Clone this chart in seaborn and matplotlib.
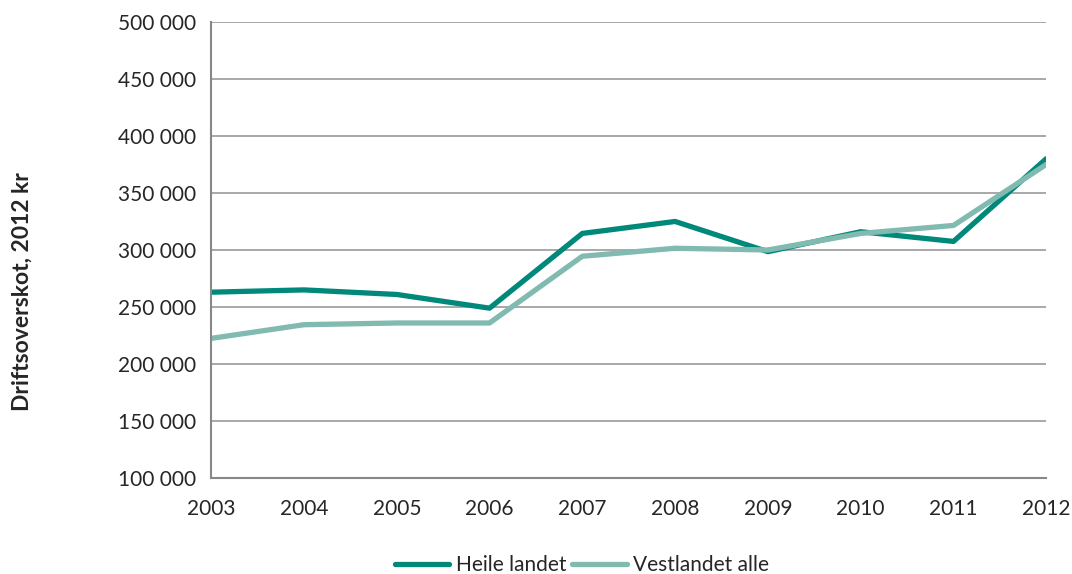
import pandas as pd
import matplotlib.pyplot as plt
import seaborn as sns
from matplotlib.ticker import FuncFormatter

years = [2003, 2004, 2005, 2006, 2007, 2008, 2009, 2010, 2011, 2012]
heile_landet = [263000, 265000, 261000, 249000, 314500, 325000, 298500, 316000, 307500, 380000]
vestlandet_alle = [222500, 234500, 236000, 236000, 294500, 301500, 300000, 314500, 321500, 375000]

df = pd.DataFrame({
    "year": years * 2,
    "value": heile_landet + vestlandet_alle,
    "serie": ["Heile landet"] * len(years) + ["Vestlandet alle"] * len(years),
})

sns.set_style("white")
plt.rcParams["font.family"] = ["Lato", "DejaVu Sans"]

fig, ax = plt.subplots(figsize=(10.72, 5.74), dpi=100)
fig.subplots_adjust(left=0.197, right=0.976, top=0.962, bottom=0.167)

sns.lineplot(data=df, x="year", y="value", hue="serie",
             palette=["#00897b", "#80bab0"], linewidth=3.8, ax=ax)

ax.set_xlim(2003, 2012)
ax.set_ylim(100000, 500000)
ax.set_xticks(years)
ax.set_yticks(range(100000, 500001, 50000))
ax.yaxis.set_major_formatter(FuncFormatter(lambda v, p: f"{int(v):,}".replace(",", " ")))
ax.grid(axis="y", color="#999999", linewidth=1.2)
ax.set_axisbelow(True)

for s in ["top", "right"]:
    ax.spines[s].set_visible(False)
for s in ["left", "bottom"]:
    ax.spines[s].set_color("#888888")
    ax.spines[s].set_linewidth(1.5)
ax.tick_params(axis="both", direction="out", length=6, width=1.2, color="#888888",
               labelsize=15, pad=5)
ax.tick_params(axis="x", pad=9)

ax.set_xlabel("")
ax.set_ylabel("")
fig.text(22 / 1072, 1 - 292 / 574, "Driftsoverskot, 2012 kr", rotation=90,
         fontsize=16.5, fontweight="bold", ha="center", va="center")

handles, labels = ax.get_legend_handles_labels()
ax.get_legend().remove()
fig.legend(handles, labels, loc="center", bbox_to_anchor=(582 / 1072, 1 - 565 / 574),
           ncol=2, frameon=False, fontsize=15, handlelength=2.6,
           columnspacing=0.3, handletextpad=0.3)

fig.savefig("out.png", dpi=100)
